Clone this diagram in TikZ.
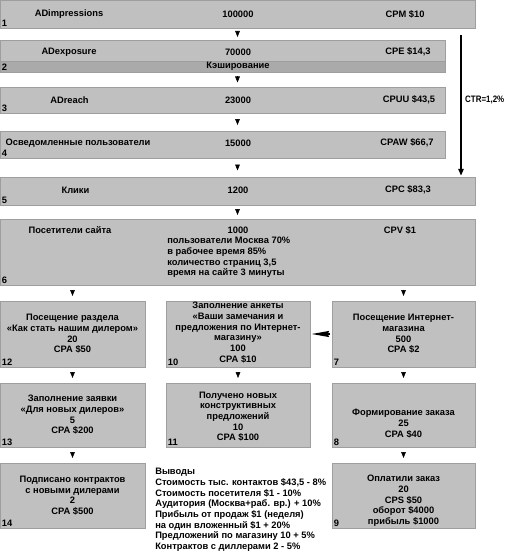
\documentclass[tikz,border=0pt]{standalone}
\usepackage{fontspec}
\setmainfont{Liberation Sans}
\usetikzlibrary{arrows.meta,calc}
\definecolor{boxfill}{RGB}{192,192,192}
\definecolor{boxline}{RGB}{158,158,158}
\definecolor{cachefill}{RGB}{170,170,170}
\tikzset{
  box/.style={draw=boxline, fill=boxfill, line width=0.6pt, inner sep=0pt},
  txt/.style={inner sep=0.75pt, font=\bfseries\fontsize{7}{8}\selectfont, align=center},
  num/.style={txt, anchor=south west},
  dn/.style={-{Triangle[length=4.5pt,width=3.5pt]}},
  wedge/.style={line width=0.8pt, -{Stealth[length=13pt,width=4.5pt,inset=1pt]}, shorten >=1pt, shorten <=1pt},
}
\begin{document}
\begin{tikzpicture}[x=0.75pt,y=0.75pt,yscale=-1,xscale=1]
\useasboundingbox (0,0) rectangle (507,560);

%Boxes of the main funnel
\node [box, minimum width=356.25pt, minimum height=21pt] (b1) at (237.5,14) {};
\node [box, minimum width=333.75pt, minimum height=24pt] (b2) at (222.5,56) {};
\node [box, fill=cachefill, minimum width=333.75pt, minimum height=8.25pt] (cache) at (222.5,66.5) {};
\node [box, minimum width=333.75pt, minimum height=19.5pt] (b3) at (222.5,100) {};
\node [box, minimum width=333.75pt, minimum height=20.25pt] (b4) at (222.5,144.5) {};
\node [box, minimum width=356.25pt, minimum height=21pt] (b5) at (237.5,191) {};
\node [box, minimum width=356.25pt, minimum height=49.5pt] (b6) at (237.5,252) {};

%Boxes of the three branches
\node [box, minimum width=108.75pt, minimum height=49.5pt] (b12) at (72.5,334) {};
\node [box, minimum width=108pt, minimum height=49.5pt] (b10) at (238,334) {};
\node [box, minimum width=107.25pt, minimum height=49.5pt] (b7) at (403.5,334) {};
\node [box, minimum width=108.75pt, minimum height=48pt] (b13) at (72.5,415) {};
\node [box, minimum width=108pt, minimum height=48pt] (b11) at (238,415) {};
\node [box, minimum width=107.25pt, minimum height=48pt] (b8) at (403.5,415) {};
\node [box, minimum width=108.75pt, minimum height=48.75pt] (b14) at (72.5,495.5) {};
\node [box, minimum width=107.25pt, minimum height=48.75pt] (b9) at (403.5,495.5) {};

% Text Node
\node [txt] (t1a) at (69,14) {ADimpressions};
\node [txt] (t1b) at (238,14) {100000};
\node [txt] (t1c) at (405,14) {CPM \$10};
% Text Node
\node [txt] (t2a) at (69,52) {ADexposure};
\node [txt] (t2b) at (238,52) {70000};
\node [txt] (t2c) at (408,52) {CPE \$14,3};
\node [txt] (t2d) at (238,66.5) {Кэширование};
% Text Node
\node [txt] (t3a) at (69.5,100) {ADreach};
\node [txt] (t3b) at (238,100) {23000};
\node [txt] (t3c) at (409,100) {CPUU \$43,5};
% Text Node
\node [txt] (t4a) at (78,143) {Осведомленные пользователи};
\node [txt] (t4b) at (238,143) {15000};
\node [txt] (t4c) at (407,143) {CPAW \$66,7};
% Text Node
\node [txt] (t5a) at (75.5,190) {Клики};
\node [txt] (t5b) at (238,190) {1200};
\node [txt] (t5c) at (408,190) {CPC \$83,3};
% Text Node
\node [txt] (t6a) at (70,230.5) {Посетители сайта};
\node [txt] (t6b) at (238,230.5) {1000};
\node [txt] (t6c) at (400,230.5) {CPV \$1};
\node [txt, anchor=north west, align=left] (t6d) at (166,236) {пользователи Москва 70\%\\в рабочее время 85\%\\количество страниц 3,5\\время на сайте 3 минуты};

% Text Node
\node [txt] (t12) at (72.5,334) {Посещение раздела\\«Как стать нашим дилером»\\20\\CPA \$50};
\node [txt] (t10) at (238,332.5) {Заполнение анкеты\\«Ваши замечания и\\предложения по Интернет-\\магазину»\\100\\CPA \$10};
\node [txt] (t7) at (403.5,334) {Посещение Интернет-\\магазина\\500\\CPA \$2};
\node [txt] (t13) at (72.5,415) {Заполнение заявки\\«Для новых дилеров»\\5\\CPA \$200};
\node [txt] (t11) at (238,416.5) {Получено новых\\конструктивных\\предложений\\10\\CPA \$100};
\node [txt] (t8) at (403.5,423.5) {Формирование заказа\\25\\CPA \$40};
\node [txt] (t14) at (72.5,495.5) {Подписано контрактов\\с новыми дилерами\\2\\CPA \$500};
\node [txt] (t9) at (403.5,501) {Оплатили заказ\\20\\CPS \$50\\оборот \$4000\\прибыль \$1000};

% Text Node
\node [txt, anchor=north west, align=left] (concl) at (154,467) {Выводы\\Стоимость тыс. контактов \$43,5 - 8\%\\Стоимость посетителя \$1 - 10\%\\Аудитория (Москва+раб. вр.) + 10\%\\Прибыль от продаж \$1 (неделя)\\на один вложенный \$1 + 20\%\\Предложений по магазину 10 + 5\%\\Контрактов с диллерами 2 - 5\%};

%Box numbers
\foreach \b/\n in {b1/1, b2/2, b3/3, b4/4, b5/5, b6/6, b12/12, b10/10, b7/7, b13/13, b11/11, b8/8, b14/14, b9/9}
  \node [num] at ([shift={(1,-1)}]\b.south west) {\n};

%Small arrows
\coordinate (mid) at (237.5,0);
\foreach \a/\b in {b1/b2, b2/b3, b3/b4, b4/b5, b5/b6}
  \draw [dn] ($(\a.south -| mid)!.5!(\b.north -| mid)$) ++(0,-3) -- ++(0,6);
\foreach \a/\b in {b6/b12, b12/b13, b13/b14, b6/b7, b7/b8, b8/b9, b10/b11}
  \draw [dn] ($(\a.south -| \b.north)!.5!(\b.north)$) ++(0,-3) -- ++(0,6);
\draw [wedge] (b7.west) -- (b10.east);

%CTR
\coordinate (ctr) at (461,35);
\draw [line width=1pt, -{Triangle[length=5pt,width=4pt]}, shorten >=0.75pt] (ctr) -- (ctr |- b5.north);
\node [txt, anchor=west, inner sep=0pt, xscale=0.85] (ctrlbl) at (465,100) {CTR=1,2\%};
\end{tikzpicture}
\end{document}
